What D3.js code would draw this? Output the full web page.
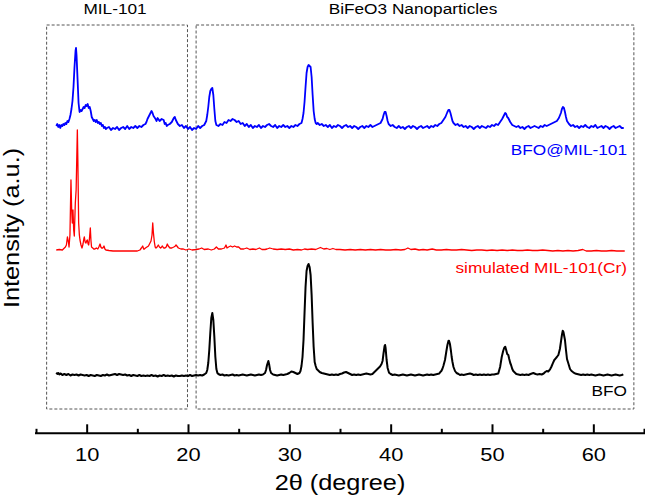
<!DOCTYPE html>
<html><head><meta charset="utf-8">
<script src="https://cdn.jsdelivr.net/npm/d3@7"></script>
<style>body{margin:0;background:#fff}svg{display:block}</style>
</head><body><svg id="chart" width="645" height="500"></svg>
<script>
// ---------- data ----------
const xMajorTicks = [10, 20, 30, 40, 50, 60];
const xMinorTicks = [5, 15, 25, 35, 45, 55, 65];
const regionLabels = ["MIL-101", "BiFeO3 Nanoparticles"];
const regionStart = [6.05, 20.8];
const regionEnd = [19.95, 64.0];
const seriesNames = ["BFO@MIL-101", "simulated MIL-101(Cr)", "BFO"];
const seriesOffsets = [282, 159, 34];

// [2theta, intensity above baseline]
const bfoMil = [
[7.0,1],[7.1,3],[7.2,0],[7.3,2],[7.4,-1],[7.5,2],[7.6,1],[7.7,3],[7.8,2],[7.9,4],[8.0,3],[8.1,6],[8.2,5],[8.3,8],[8.4,12],[8.5,18],[8.6,26],[8.7,40],[8.8,60],[8.9,76],[8.95,79],[9.0,72],[9.1,48],[9.2,24],[9.3,15],[9.4,17],[9.5,16],[9.6,18],[9.7,20],[9.8,19],[9.9,22],[10.0,21],[10.1,23],[10.2,19],[10.3,20],[10.4,16],[10.5,10],[10.6,8],[10.7,6],[10.8,7],[10.9,5],[11.0,7],[11.1,4],[11.2,5],[11.3,3],[11.4,4],[11.5,1],[11.6,2],[11.7,-1],[11.8,0],[11.9,-2],[12.0,-1],[12.2,0],[12.4,-3],[12.6,-1],[12.8,-2],[13.0,0],[13.2,-3],[13.4,-1],[13.6,0],[13.8,-2],[14.0,1],[14.2,-2],[14.4,0],[14.6,-1],[14.8,1],[15.0,-1],[15.2,1],[15.4,0],[15.6,2],[15.8,3],[15.9,5],[16.0,8],[16.2,12],[16.4,16],[16.5,14],[16.6,11],[16.8,8],[16.9,6],[17.0,9],[17.2,6],[17.4,8],[17.6,7],[17.7,3],[17.8,4],[17.9,1],[18.0,2],[18.2,3],[18.4,5],[18.6,9],[18.7,10],[18.8,7],[19.0,3],[19.2,1],[19.4,2],[19.6,-1],[19.8,1],[20.0,-2],[20.2,0],[20.4,-3],[20.6,-1],[20.8,-2],[21.0,1],[21.2,-1],[21.4,1],[21.6,2],[21.8,6],[21.9,12],[22.0,20],[22.1,30],[22.2,36],[22.3,38],[22.4,39],[22.5,32],[22.6,18],[22.7,6],[22.8,2],[23.0,1],[23.2,3],[23.4,2],[23.6,5],[23.8,4],[24.0,7],[24.2,6],[24.4,8],[24.6,7],[24.8,5],[25.0,6],[25.2,3],[25.4,4],[25.6,1],[25.8,3],[26.0,0],[26.2,2],[26.4,-1],[26.6,1],[26.8,0],[27.0,2],[27.2,-1],[27.4,1],[27.6,0],[27.8,2],[28.0,3],[28.2,1],[28.4,0],[28.6,2],[28.8,-1],[29.0,1],[29.2,0],[29.4,2],[29.6,0],[29.8,1],[30.0,-1],[30.2,1],[30.4,0],[30.6,2],[30.8,1],[31.0,3],[31.2,4],[31.3,8],[31.4,14],[31.5,25],[31.6,40],[31.7,54],[31.8,60],[31.9,62],[32.0,61],[32.1,60],[32.2,50],[32.3,32],[32.4,16],[32.5,8],[32.6,4],[32.7,3],[32.8,4],[33.0,2],[33.2,3],[33.4,1],[33.6,2],[33.8,0],[34.0,2],[34.2,-1],[34.4,1],[34.6,0],[34.8,2],[35.0,1],[35.2,-1],[35.4,1],[35.6,2],[35.8,0],[36.0,1],[36.2,-1],[36.4,1],[36.6,0],[36.8,-2],[37.0,0],[37.2,1],[37.4,-1],[37.6,1],[37.8,0],[38.0,2],[38.2,0],[38.4,1],[38.6,2],[38.8,3],[39.0,4],[39.2,8],[39.3,12],[39.4,15],[39.5,15],[39.6,11],[39.7,6],[39.8,3],[40.0,1],[40.2,2],[40.4,0],[40.6,-1],[40.8,1],[41.0,-1],[41.2,0],[41.4,-2],[41.6,0],[41.8,1],[42.0,-1],[42.2,1],[42.4,0],[42.6,-2],[42.8,0],[43.0,1],[43.2,-1],[43.4,0],[43.6,1],[43.8,-1],[44.0,1],[44.2,0],[44.4,2],[44.6,1],[44.8,3],[45.0,4],[45.2,7],[45.4,10],[45.6,15],[45.7,17],[45.8,17],[45.9,14],[46.0,10],[46.1,6],[46.2,4],[46.4,2],[46.6,3],[46.8,1],[47.0,2],[47.2,0],[47.4,1],[47.6,-1],[47.8,1],[48.0,0],[48.2,-2],[48.4,0],[48.6,1],[48.8,-1],[49.0,1],[49.2,0],[49.4,-1],[49.6,1],[49.8,0],[50.0,2],[50.2,1],[50.4,3],[50.6,2],[50.8,5],[51.0,8],[51.2,12],[51.3,14],[51.4,13],[51.5,10],[51.6,9],[51.7,7],[51.8,5],[52.0,2],[52.2,1],[52.4,0],[52.6,1],[52.8,-1],[53.0,0],[53.2,-2],[53.4,0],[53.6,1],[53.8,-1],[54.0,0],[54.2,1],[54.4,0],[54.6,-1],[54.8,1],[55.0,0],[55.2,2],[55.4,1],[55.6,2],[55.8,3],[56.0,4],[56.2,5],[56.4,6],[56.6,9],[56.8,14],[56.9,18],[57.0,20],[57.1,19],[57.2,15],[57.3,10],[57.4,6],[57.6,3],[57.8,1],[58.0,2],[58.2,0],[58.4,1],[58.6,-1],[58.8,1],[59.0,0],[59.2,2],[59.4,0],[59.6,-1],[59.8,1],[60.0,0],[60.2,2],[60.4,-1],[60.6,0],[60.8,1],[61.0,-1],[61.2,1],[61.4,0],[61.6,-2],[61.8,0],[62.0,1],[62.2,-1],[62.4,0],[62.6,1],[62.8,-1],[63.0,-1]
];

const simMil = [
[7.0,0],[7.3,0.5],[7.6,0],[7.9,3],[8.0,5],[8.1,13],[8.2,8],[8.26,3],[8.35,15],[8.45,70],[8.52,40],[8.58,27],[8.65,40],[8.72,20],[8.78,14],[8.88,47],[8.96,60],[9.04,100],[9.08,120],[9.13,90],[9.21,27],[9.28,15],[9.34,10],[9.44,5],[9.54,2],[9.64,6],[9.72,11],[9.77,13],[9.85,8],[9.93,7],[10.0,9],[10.07,10],[10.14,6],[10.2,5],[10.28,12],[10.36,22],[10.42,10],[10.48,3],[10.6,2],[10.7,1],[10.82,1],[10.95,2],[11.1,1],[11.2,3],[11.32,6],[11.4,3],[11.48,2],[11.6,2],[11.71,4],[11.8,1],[11.9,0],[12.2,-0.5],[12.6,-1],[13.0,-1],[13.5,-1],[14.0,-1],[14.5,-1],[15.0,-1],[15.26,0],[15.4,2],[15.53,4],[15.62,1],[15.69,1],[15.8,2],[15.95,3],[16.1,4],[16.25,7],[16.35,9],[16.45,15],[16.52,27],[16.58,18],[16.68,8],[16.76,3],[16.84,2],[16.95,3],[17.07,5],[17.18,3],[17.3,2],[17.4,3],[17.47,4],[17.6,2],[17.73,2],[17.85,3],[17.96,6],[18.05,4],[18.22,2],[18.4,2],[18.6,3],[18.75,4],[18.82,5],[18.9,4],[19.05,2],[19.3,1],[19.54,1],[19.8,0],[20.1,1],[20.4,0],[20.8,0.5],[21.1,1],[21.35,2],[21.6,0.5],[22.0,1],[22.3,0],[22.6,1],[22.8,3],[23.0,1],[23.3,1],[23.6,2],[23.75,5],[23.85,2],[24.0,3],[24.2,4],[24.4,3],[24.6,4],[24.8,3],[25.0,3],[25.2,1],[25.5,1],[25.8,2],[26.1,0.5],[26.4,1],[26.7,0.5],[27.05,2],[27.3,0.5],[27.6,0.5],[27.8,1],[28.07,2],[28.4,1],[28.8,0.5],[29.2,1],[29.6,0.5],[30.0,1],[30.4,0],[30.8,0.5],[31.2,0],[31.5,1],[31.8,0.5],[32.2,1],[32.6,0.5],[33.07,2.5],[33.4,1],[33.7,1.5],[34.0,0.5],[34.3,1.5],[34.6,0.5],[35.0,0.5],[35.5,0],[36.0,0.5],[36.5,0],[37.0,0.5],[37.5,0],[38.0,0.5],[38.5,0],[39.0,0.5],[39.5,0],[40.0,0],[40.5,0.5],[41.0,0],[41.4,0.5],[41.7,2],[42.0,0.5],[42.4,1],[42.8,0],[43.2,0.5],[43.6,0],[44.1,1],[44.5,0],[45.0,0],[45.5,0.5],[46.0,0],[46.5,0],[47.0,0.5],[47.5,0],[48.0,-0.5],[48.5,0],[49.0,0],[49.5,-0.5],[50.0,0],[50.5,-0.5],[51.0,0],[51.5,-0.5],[52.0,0],[52.5,-0.5],[53.0,-0.5],[53.5,0],[54.0,-0.5],[54.5,-0.5],[55.0,0],[55.5,-0.5],[56.0,-1],[56.5,-0.5],[57.0,-1],[57.5,-0.5],[58.0,-1],[58.5,-0.5],[58.96,0.5],[59.3,-1],[59.8,-1],[60.3,-0.5],[60.8,-1],[61.3,-1],[61.8,-0.5],[62.3,-1],[62.8,-1],[63.1,-1]
];

const bfo = [
[7.0,2.3],[7.1,1],[7.2,2],[7.3,0.5],[7.4,1.5],[7.5,1],[7.6,0],[7.8,1],[8.0,0],[8.2,1],[8.4,-0.5],[8.6,0.5],[8.8,0],[9.0,0.5],[9.2,-0.5],[9.4,0.5],[9.6,0],[9.8,-0.5],[10.0,0],[10.2,-1],[10.4,0],[10.6,-0.5],[10.8,-1],[11.0,0],[11.2,-0.5],[11.4,-1],[11.6,0],[11.8,-0.5],[12.0,0.5],[12.2,-0.5],[12.4,0],[12.6,0.5],[12.8,1],[13.0,0],[13.2,1],[13.4,0.5],[13.6,0],[13.8,0.5],[14.0,-0.5],[14.2,0],[14.4,-1],[14.6,0],[14.8,-0.5],[15.0,-1],[15.2,0],[15.4,-1],[15.6,-0.5],[15.8,-1],[16.0,-0.5],[16.2,-1],[16.4,0],[16.6,-1],[16.8,-0.5],[17.0,-1.5],[17.2,-0.5],[17.4,-1],[17.6,0],[17.8,-1],[18.0,-0.5],[18.2,-1],[18.4,-0.5],[18.6,-1.5],[18.8,-0.5],[19.0,-1],[19.2,-1],[19.4,-0.5],[19.6,-1],[19.8,-0.5],[20.0,-1],[20.2,0],[20.4,-1],[20.6,-0.5],[20.8,0],[21.0,-0.5],[21.2,0],[21.4,-0.5],[21.6,0.5],[21.8,2],[21.9,5],[22.0,12],[22.1,25],[22.2,42],[22.3,57],[22.4,62],[22.5,55],[22.6,38],[22.7,18],[22.8,6],[22.9,2],[23.0,1],[23.2,0],[23.4,0.5],[23.6,-0.5],[23.8,0],[24.0,-0.5],[24.2,0],[24.4,0.5],[24.6,-0.5],[24.8,0],[25.0,-0.5],[25.2,0],[25.4,0.5],[25.6,0],[25.8,-0.5],[26.0,0],[26.2,0.5],[26.4,0],[26.6,-0.5],[26.8,0],[27.0,0.5],[27.2,0],[27.4,0.5],[27.6,2],[27.7,5],[27.8,10],[27.93,14],[28.0,11],[28.1,5],[28.2,2],[28.4,0.5],[28.6,0],[28.8,-0.5],[29.0,0],[29.2,0.5],[29.4,0],[29.6,0.5],[29.8,1],[30.0,2],[30.2,3.5],[30.4,3],[30.6,2],[30.8,1],[31.0,2],[31.1,4],[31.2,9],[31.3,18],[31.4,35],[31.5,62],[31.6,88],[31.7,104],[31.8,109],[31.9,111],[32.0,108],[32.1,100],[32.2,80],[32.3,52],[32.4,28],[32.5,13],[32.6,9],[32.7,6],[32.8,5],[32.9,4],[33.0,3],[33.2,2],[33.4,1.5],[33.6,1],[33.8,0.5],[34.0,0],[34.2,0.5],[34.4,0],[34.6,0.5],[34.8,0],[35.0,1],[35.2,1.5],[35.4,2.5],[35.6,3],[35.8,2],[36.0,1],[36.2,0],[36.4,0.5],[36.6,0],[36.8,0.5],[37.0,0],[37.2,0.5],[37.4,1],[37.6,1.5],[37.8,1],[38.0,0.5],[38.2,1],[38.4,3],[38.6,5],[38.8,7],[38.95,8.5],[39.1,11],[39.2,14],[39.3,22],[39.4,29],[39.45,30],[39.5,27],[39.6,15],[39.7,7],[39.84,2.3],[40.0,1],[40.2,0],[40.4,0.5],[40.6,0],[40.8,-0.5],[41.0,0],[41.2,0.5],[41.4,0],[41.6,-0.5],[41.8,0],[42.0,0.5],[42.2,0],[42.4,-0.5],[42.6,0],[42.8,0.5],[43.0,0],[43.2,-0.5],[43.4,0],[43.6,0.5],[43.8,0],[44.0,0.5],[44.2,0],[44.4,0.5],[44.6,1],[44.8,1.5],[44.9,3],[45.0,4],[45.1,6],[45.2,9],[45.36,15],[45.5,24],[45.6,30],[45.7,34],[45.76,34.3],[45.85,31],[45.95,24],[46.02,18],[46.1,13],[46.2,8],[46.35,4],[46.5,2],[46.7,1],[46.84,0],[47.0,0.5],[47.2,0],[47.4,0.5],[47.6,1],[47.83,1.5],[48.0,1],[48.2,0],[48.4,0.5],[48.6,0],[48.8,0.5],[49.0,0],[49.2,0.5],[49.4,0],[49.6,0.5],[49.8,0],[50.0,0.5],[50.2,0.5],[50.4,1],[50.62,1.5],[50.8,8],[50.96,18],[51.1,24],[51.2,27],[51.31,28.3],[51.4,25],[51.5,21],[51.61,20],[51.7,16],[51.8,12],[51.88,10],[52.0,6],[52.1,4],[52.27,2.3],[52.4,1],[52.6,0.5],[52.8,0],[53.0,0.5],[53.2,0],[53.4,0.5],[53.6,0],[53.8,1],[54.08,2],[54.3,1],[54.5,0.5],[54.7,1],[54.9,0.5],[55.1,1.5],[55.25,3],[55.4,4],[55.55,3.5],[55.73,5.7],[55.85,8],[56.0,11.7],[56.15,15],[56.29,16.7],[56.4,18],[56.55,20],[56.7,26],[56.8,33],[56.9,40],[56.98,44.3],[57.05,43],[57.2,35],[57.3,25],[57.4,16],[57.53,11.7],[57.7,6],[57.85,4],[58.02,2.7],[58.2,1.5],[58.4,1],[58.6,0.5],[58.8,0],[59.0,0.5],[59.2,0],[59.4,0.5],[59.6,0],[59.8,0.5],[60.0,0],[60.2,-0.5],[60.4,0],[60.6,0.5],[60.8,0],[61.0,-0.5],[61.2,0],[61.4,0.5],[61.6,0],[61.8,-0.5],[62.0,0],[62.2,0.5],[62.4,0],[62.6,-0.5],[62.8,0],[62.96,0.7]
];
const seriesData = [bfoMil, simMil, bfo];

// ---------- layout / style ----------
const FONT = "'Liberation Sans', Arial, sans-serif";
const SX = 1.15; // horizontal glyph stretch of reference font
const seriesColors = ["#0000ff", "#ff0000", "#000000"];
const seriesWidths = [1.8, 1.3, 2.0];
const labelBaselines = [155, 273, 396];

const svg = d3.select("#chart");
const x = d3.scaleLinear().domain([5, 65]).range([36, 644]);
const y = d3.scaleLinear().domain([0, 384]).range([409, 25]);

// region boxes
regionLabels.forEach((lab, i) => {
  const x0 = x(regionStart[i]), x1 = x(regionEnd[i]);
  svg.append("rect")
    .attr("x", x0).attr("y", y(384))
    .attr("width", x1 - x0).attr("height", y(0) - y(384))
    .attr("fill", "none").attr("stroke", "#555")
    .attr("stroke-width", 1).attr("stroke-dasharray", "3,2");
  svg.append("text")
    .attr("transform", `translate(${(x0 + x1) / 2 - 2},13.5) scale(${SX},1)`)
    .attr("text-anchor", "middle")
    .attr("font-family", FONT).attr("font-size", 15)
    .attr("fill", "#000").text(lab);
});

// traces
const line = d3.line()
  .x(d => x(d[0]))
  .y(d => y(d[1]));
seriesData.forEach((data, i) => {
  const off = seriesOffsets[i];
  svg.append("path")
    .datum(data.map(d => [d[0], d[1] + off]))
    .attr("fill", "none")
    .attr("stroke", seriesColors[i])
    .attr("stroke-width", seriesWidths[i])
    .attr("stroke-linejoin", "round")
    .attr("d", line);
  svg.append("text")
    .attr("transform", `translate(627,${labelBaselines[i]}) scale(${SX},1)`)
    .attr("text-anchor", "end")
    .attr("font-family", FONT).attr("font-size", 15)
    .attr("fill", seriesColors[i])
    .text(seriesNames[i]);
});

// x axis
const axisY = 433.3;
const gAxis = svg.append("g").attr("transform", `translate(0,${axisY})`);
gAxis.call(d3.axisBottom(x).tickValues(xMinorTicks).tickSize(-4.5).tickFormat(""))
  .call(g => g.select(".domain").remove());
gAxis.append("g").call(d3.axisBottom(x).tickValues(xMajorTicks).tickSize(-9).tickPadding(14).tickFormat(d3.format("d")))
  .call(g => g.select(".domain").remove())
  .call(g => g.selectAll("text")
      .attr("font-family", FONT).attr("font-size", 19).attr("fill", "#000")
      .attr("transform", `scale(${SX},1)`));
gAxis.append("line").attr("x1", x(5) - 1).attr("x2", x(65) + 1).attr("y1", 0).attr("y2", 0)
  .attr("stroke", "#000").attr("stroke-width", 2);
gAxis.selectAll(".tick line").attr("stroke", "#000").attr("stroke-width", 2);

// axis titles
svg.append("text")
  .attr("transform", `translate(340,490) scale(${SX},1)`)
  .attr("text-anchor", "middle")
  .attr("font-family", FONT).attr("font-size", 22)
  .text("2θ (degree)");
svg.append("text")
  .attr("transform", `translate(19,228) rotate(-90) scale(${SX},1)`)
  .attr("text-anchor", "middle")
  .attr("font-family", FONT).attr("font-size", 22)
  .text("Intensity (a.u.)");
</script>
</body></html>
